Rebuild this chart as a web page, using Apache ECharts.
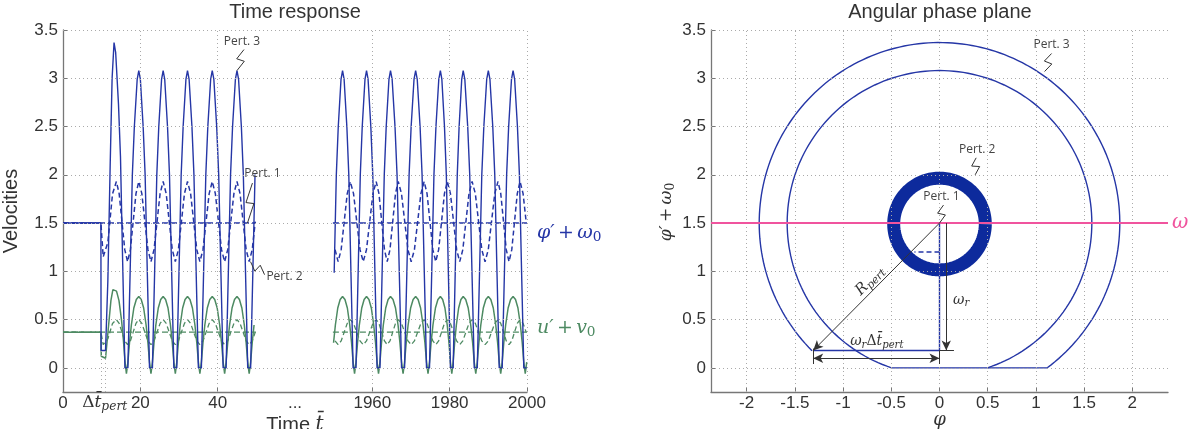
<!DOCTYPE html>
<html>
<head>
<meta charset="utf-8">
<title>Time response / Angular phase plane</title>
<script src="https://cdn.jsdelivr.net/npm/echarts@6.0.0/dist/echarts.min.js"></script>
<style>
  html, body { margin: 0; padding: 0; background: #fff; }
  #main { width: 1188px; height: 429px; }
</style>
</head>
<body>
<div id="main"></div>
<script>
// ---- values ----
// left panel: broken time axis, 0..60 on the left, 1940..2000 on the right
const timeTicks = [0, 20, 40, 60, 80, 100, 120];
const timeTickLabels = ['0', '20', '40', '...', '1960', '1980', '2000'];
const timeGridTicks = [20, 40, 80, 100, 120];
const timeBreak = 1880;
const velTicks = [0, 0.5, 1, 1.5, 2, 2.5, 3, 3.5];
const phiTicks = [-2, -1.5, -1, -0.5, 0, 0.5, 1, 1.5, 2];

const segLeft = [0, 49.9];
const segRight = [1949.8, 2000];
const dtPert = [9.8, 11.0];
const omega0 = 1.5;
const v0 = 0.37;

// Pert. 3 (solid lines)
const p3PhiLead = [[0, 1.5], [9.8, 1.5], [9.85, 0.18], [11.0, 0.18], [11.6, 0.9], [12.2, 2.1], [12.7, 3.0]];
const p3ULead = [[0, 0.37], [9.8, 0.37], [9.9, 0.12], [11.0, 0.1], [11.7, 0.4], [12.4, 0.7], [12.9, 0.81]];
const p3PeaksLeft = [13.2, 19.6, 25.9, 32.2, 38.6, 45.0, 51.3];
const p3PeaksRight = [1946.1, 1952.3, 1958.5, 1964.7, 1971.2, 1977.6, 1983.5, 1990.0, 1996.4, 2002.7];
const p3PhiPeaksLeftVal = [3.37, 3.08, 3.08, 3.08, 3.08, 3.08, 3.08];
const p3PhiPeak = 3.08, p3PhiTrough = 0;
const p3UPeaksLeftVal = [0.83, 0.74, 0.74, 0.74, 0.74, 0.74, 0.74];
const p3UPeak = 0.74, p3UTrough = -0.06;
// half cycle, peak -> trough: [fraction of half period, fraction of swing]
const p3PhiShape = [[0, 1], [0.13, 0.97], [0.36, 0.81], [0.52, 0.65], [0.7, 0.32], [0.88, 0], [1, 0]];
const p3UShape = [[0, 1], [0.2, 0.96], [0.4, 0.85], [0.6, 0.63], [0.75, 0.4], [0.88, 0.15], [1, 0]];

// Pert. 2 (dashed lines)
const p2PhiLead = [[0, 1.5], [9.8, 1.5], [10.4, 1.15], [11.6, 1.3], [12.8, 1.8]];
const p2ULead = [[0, 0.37], [9.8, 0.37], [10.4, 0.24], [11.6, 0.3], [12.8, 0.46]];
const p2PeaksLeft = [13.8, 19.6, 25.9, 32.2, 38.6, 45.0, 51.3];
const p2PeaksRight = [1948.0, 1954.3, 1961.0, 1966.7, 1973.4, 1979.4, 1985.8, 1992.5, 1998.2, 2004.5];
const p2PhiPeak = 1.93, p2PhiTrough = 1.1;
const p2UPeak = 0.5, p2UTrough = 0.24;
const p2Shape = [[0, 1], [0.25, 0.85], [0.5, 0.5], [0.75, 0.15], [1, 0]];

// right panel: phase plane, [centre phi, centre vel, radius, start angle, end angle]
const orbitArcs = [[0, 1.5, 1.87, 225, -53.3], [0, 1.5, 1.58, 251.6, -71.6]];
const ringArcs = [[0, 1.49, 0.475, 0, 360]];
const flatBottom = [[-0.5, 0], [1.12, 0]];
const pertPath = [[0, 1.5], [0, 0.18], [-1.31, 0.18]];
const pert2Path = [[0, 1.2], [-0.26, 1.2]];

const blue = '#2536a6', ringBlue = '#0d2a9c', green = '#4d8a62', pink = '#f0549e';
const gridColor = '#aaaaaa', axisColor = '#777777', textColor = '#333333';

const chart = echarts.init(document.getElementById('main'));
const toAxis = t => (t > 1000 ? t - timeBreak : t);

function wave(peaks, peakVals, trough, shape, from, to) {
    const vals = Array.isArray(peakVals) ? peakVals : peaks.map(() => peakVals);
    const pts = [];
    for (let i = 0; i < peaks.length - 1; i++) {
        const half = (peaks[i + 1] - peaks[i]) / 2;
        shape.forEach(([f, s], k) => {
            if (i > 0 && k === 0) return;
            pts.push([peaks[i] + f * half, trough + (vals[i] - trough) * s]);
        });
        for (let k = shape.length - 2; k >= 0; k--) {
            const [f, s] = shape[k];
            pts.push([peaks[i + 1] - f * half, trough + (vals[i + 1] - trough) * s]);
        }
    }
    return pts.filter(p => p[0] >= from && p[0] <= to);
}

function timeLine(points, color, dash, width) {
    return {
        type: 'line', xAxisIndex: 0, yAxisIndex: 0, symbol: 'none', silent: true, z: 3,
        data: points.map(p => [toAxis(p[0]), p[1]]),
        lineStyle: {color: color, width: width, type: dash || 'solid'}
    };
}

function phaseLine(points, color, dash, width) {
    return {
        type: 'line', xAxisIndex: 1, yAxisIndex: 1, symbol: 'none', silent: true, z: 3,
        data: points, lineStyle: {color: color, width: width, type: dash || 'solid'}
    };
}

function arcSeries(arcs, color, width) {
    return {
        type: 'custom', xAxisIndex: 1, yAxisIndex: 1, silent: true, z: 3, clip: true,
        data: arcs, encode: {x: 0, y: 1},
        renderItem: function (params, api) {
            const cx = api.value(0), cy = api.value(1), r = api.value(2);
            const a0 = api.value(3), a1 = api.value(4);
            const pts = [];
            for (let k = 0; k <= 180; k++) {
                const a = (a0 + (a1 - a0) * k / 180) * Math.PI / 180;
                pts.push(api.coord([cx + r * Math.cos(a), cy + r * Math.sin(a)]));
            }
            return {type: 'polyline', shape: {points: pts}, style: {fill: null, stroke: color, lineWidth: width}};
        }
    };
}

function gridSeries(gridIndex, xs, ys, extra) {
    return {
        type: 'line', xAxisIndex: gridIndex, yAxisIndex: gridIndex, data: [], silent: true, z: 1,
        markLine: {
            silent: true, symbol: ['none', 'none'], label: {show: false}, animation: false,
            lineStyle: {color: gridColor, type: [1, 3], width: 1},
            emphasis: {disabled: true},
            data: ys.map(v => ({yAxis: v})).concat(xs.map(v => ({xAxis: v}))).concat(extra || [])
        }
    };
}

const labelStyle = {color: textColor, fontSize: 17, fontFamily: 'Liberation Sans'};

const series = [
    gridSeries(0, timeGridTicks, velTicks, dtPert.map(t => [{coord: [t, -0.25]}, {coord: [t, 0.2]}])),
    // Pert. 1
    timeLine([[segLeft[0], omega0], [segLeft[1], omega0]], blue, [6, 3], 1.4),
    timeLine([[segRight[0], omega0], [segRight[1], omega0]], blue, [6, 3], 1.4),
    timeLine([[segLeft[0], v0], [segLeft[1], v0]], green, [6, 3], 1.4),
    timeLine([[segRight[0], v0], [segRight[1], v0]], green, [6, 3], 1.4),
    // Pert. 2
    timeLine(p2PhiLead.concat(wave(p2PeaksLeft, p2PhiPeak, p2PhiTrough, p2Shape, p2PeaksLeft[0], segLeft[1])), blue, [5, 3], 1.5),
    timeLine(wave(p2PeaksRight, p2PhiPeak, p2PhiTrough, p2Shape, segRight[0], segRight[1]), blue, [5, 3], 1.5),
    timeLine(p2ULead.concat(wave(p2PeaksLeft, p2UPeak, p2UTrough, p2Shape, p2PeaksLeft[0], segLeft[1])), green, [5, 3], 1.3),
    timeLine(wave(p2PeaksRight, p2UPeak, p2UTrough, p2Shape, segRight[0], segRight[1]), green, [5, 3], 1.3),
    // Pert. 3
    timeLine(p3ULead.concat(wave(p3PeaksLeft, p3UPeaksLeftVal, p3UTrough, p3UShape, p3PeaksLeft[0], segLeft[1])), green, null, 1.5),
    timeLine(wave(p3PeaksRight, p3UPeak, p3UTrough, p3UShape, segRight[0], segRight[1]), green, null, 1.5),
    timeLine(p3PhiLead.concat(wave(p3PeaksLeft, p3PhiPeaksLeftVal, p3PhiTrough, p3PhiShape, p3PeaksLeft[0], segLeft[1])), blue, null, 1.4),
    timeLine(wave(p3PeaksRight, p3PhiPeak, p3PhiTrough, p3PhiShape, segRight[0], segRight[1]), blue, null, 1.4),

    // phase plane
    gridSeries(1, phiTicks, velTicks),
    {
        type: 'line', xAxisIndex: 1, yAxisIndex: 1, data: [], silent: true, z: 2,
        markLine: {
            silent: true, symbol: ['none', 'none'], label: {show: false}, animation: false,
            lineStyle: {color: pink, type: 'solid', width: 2},
            data: [{yAxis: omega0}]
        }
    },
    arcSeries(ringArcs, ringBlue, 13),
    arcSeries(orbitArcs, blue, 1.4),
    phaseLine(flatBottom, blue, null, 1.4),
    phaseLine(pertPath, blue, null, 1.4),
    phaseLine(pert2Path, blue, [5, 3], 1.4),
    {
        type: 'line', xAxisIndex: 1, yAxisIndex: 1, data: [], silent: true, z: 4,
        markLine: {
            silent: true, symbol: ['none', 'arrow'], symbolSize: [7, 10], label: {show: false}, animation: false,
            lineStyle: {color: '#333', type: 'solid', width: 1},
            data: [
                [{coord: [0, 1.5]}, {coord: [-1.31, 0.18]}],
                [{coord: [0.07, 1.5]}, {coord: [0.07, 0.18]}],
                [{coord: [-1.31, 0.1], symbol: 'arrow'}, {coord: [0, 0.1]}],
                [{coord: [0, 0.18], symbol: 'none'}, {coord: [0.15, 0.18], symbol: 'none'}],
                [{coord: [-1.31, 0.2], symbol: 'none'}, {coord: [-1.31, 0.04], symbol: 'none'}],
                [{coord: [0, 0.18], symbol: 'none'}, {coord: [0, 0.04], symbol: 'none'}]
            ]
        }
    }
];

chart.setOption({
    animation: false,
    grid: [
        {left: 62, top: 30, width: 465, height: 362},
        {left: 711, top: 30, width: 457, height: 362}
    ],
    xAxis: [
        {
            type: 'value', gridIndex: 0, min: 0, max: 120,
            axisLine: {onZero: false, lineStyle: {color: axisColor, width: 1.3}},
            axisTick: {inside: true, length: 5, customValues: [0, 20, 40, 80, 100, 120], lineStyle: {color: axisColor}},
            axisLabel: Object.assign({customValues: timeTicks, margin: 3,
                formatter: v => timeTickLabels[timeTicks.indexOf(v)]}, labelStyle),
            splitLine: {show: false}
        },
        {
            type: 'value', gridIndex: 1, min: -2.37, max: 2.37,
            axisLine: {onZero: false, lineStyle: {color: axisColor, width: 1.3}},
            axisTick: {inside: true, length: 5, customValues: phiTicks, lineStyle: {color: axisColor}},
            axisLabel: Object.assign({customValues: phiTicks, margin: 3}, labelStyle),
            splitLine: {show: false}
        }
    ],
    yAxis: [
        {
            type: 'value', gridIndex: 0, min: -0.25, max: 3.5,
            axisLine: {show: true, onZero: false, lineStyle: {color: axisColor, width: 1.3}},
            axisTick: {show: true, inside: true, length: 5, customValues: velTicks, lineStyle: {color: axisColor}},
            axisLabel: Object.assign({customValues: velTicks, margin: 5}, labelStyle),
            splitLine: {show: false},
            name: 'Velocities', nameLocation: 'middle', nameGap: 42,
            nameTextStyle: {color: textColor, fontSize: 20, fontFamily: 'Liberation Sans'}
        },
        {
            type: 'value', gridIndex: 1, min: -0.25, max: 3.5,
            axisLine: {show: true, onZero: false, lineStyle: {color: axisColor, width: 1.3}},
            axisTick: {show: true, inside: true, length: 5, customValues: velTicks, lineStyle: {color: axisColor}},
            axisLabel: Object.assign({customValues: velTicks, margin: 5}, labelStyle),
            splitLine: {show: false}
        }
    ],
    series: series
});

// ---- annotations ----
const px = (g, p) => chart.convertToPixel({gridIndex: g}, p);
const serif = 'DejaVu Serif';
const richMath = (size, color) => ({
    i: {fontFamily: serif, fontStyle: 'italic', fontSize: size, color: color},
    r: {fontFamily: serif, fontSize: size, color: color},
    s: {fontFamily: serif, fontStyle: 'italic', fontSize: size * 0.72, color: color, padding: [size * 0.45, 0, 0, 0]},
    n: {fontFamily: serif, fontSize: size * 0.72, color: color, padding: [size * 0.45, 0, 0, 0]}
});

function mathText(text, x, y, size, color, opts) {
    return Object.assign({
        type: 'text', x: x, y: y, silent: true, z: 20,
        style: Object.assign({text: text, rich: richMath(size, color), fill: color,
            align: 'left', verticalAlign: 'middle'}, (opts && opts.style) || {})
    }, (opts && opts.el) || {});
}

function plainText(text, x, y, size, align) {
    return {type: 'text', x: x, y: y, silent: true, z: 20,
        style: {text: text, fill: textColor, fontSize: size, fontFamily: 'Liberation Sans',
            align: align || 'center', verticalAlign: 'middle'}};
}

// "Pert." call-outs: [grid, tip in data units, text offset from tip (px), bolt start offset from tip (px)]
const callouts = [
    [0, [45.0, 3.08], 'Pert. 3', [5, -29], [7, -21]],
    [0, [47.7, 1.5], 'Pert. 1', [15, -49], [5, -40]],
    [0, [48.5, 1.1], 'Pert. 2', [34, 15], [14, 13]],
    [1, [1.09, 3.07], 'Pert. 3', [7, -27], [7, -18]],
    [1, [0.37, 2.0], 'Pert. 2', [2, -25], [1, -17]],
    [1, [0, 1.5], 'Pert. 1', [2, -26], [4, -18]]
];
const graphics = [];
callouts.forEach(([g, tip, label, toff, boff]) => {
    const p = px(g, tip);
    const s = [p[0] + boff[0], p[1] + boff[1]];
    const dx = p[0] - s[0], dy = p[1] - s[1];
    const len = Math.hypot(dx, dy);
    const nx = -dy / len * 4, ny = dx / len * 4;
    const mx = s[0] + dx / 2, my = s[1] + dy / 2;
    graphics.push({
        type: 'polyline', silent: true, z: 20,
        shape: {points: [s, [mx + nx, my + ny], [mx - nx, my - ny], p]},
        style: {stroke: '#333', lineWidth: 1, fill: null}
    });
    graphics.push({type: 'text', x: p[0] + toff[0], y: p[1] + toff[1], silent: true, z: 20,
        style: {text: label, fill: '#444', fontSize: 12, fontFamily: 'Open Sans', align: 'center', verticalAlign: 'middle'}});
});

graphics.push(plainText('Time response', 295, 12, 20));
graphics.push(plainText('Angular phase plane', 940, 12, 20));
graphics.push({type: 'text', x: 295, y: 415, silent: true, z: 20,
    style: {text: 'Time {i|t\u0304}', fill: textColor, fontSize: 20, fontFamily: 'Liberation Sans', align: 'center', verticalAlign: 'top',
        rich: {i: {fontFamily: serif, fontStyle: 'italic', fontSize: 20, color: textColor}}}});

const dtPx = px(0, [(dtPert[0] + dtPert[1]) / 2, -0.25]);
graphics.push(mathText('{r|\u0394}{i|t\u0304}{s|pert}', dtPx[0] - 21, dtPx[1] + 11, 17, textColor));

const phiLblPx = px(0, [120, omega0]);
graphics.push(mathText('{i|\u03c6\u2032} {r|+} {i|\u03c9}{n|0}', phiLblPx[0] + 10, phiLblPx[1] + 10, 19, blue));
const uLblPx = px(0, [120, v0]);
graphics.push(mathText('{i|u\u2032} {r|+} {i|v}{n|0}', uLblPx[0] + 10, uLblPx[1] - 4, 19, green));

const omPx = px(1, [2.37, omega0]);
graphics.push(mathText('{i|\u03c9}', omPx[0] + 4, omPx[1], 20, pink));

graphics.push(mathText('{i|\u03c6\u2032} {r|+} {i|\u03c9}{n|0}', 667, 212, 17, textColor,
    {style: {align: 'center'}, el: {rotation: Math.PI / 2}}));
const phiAxPx = px(1, [0, -0.25]);
graphics.push(mathText('{i|\u03c6}', phiAxPx[0], 420, 18, textColor, {style: {align: 'center'}}));

const rPx = px(1, [-0.72, 0.9]);
graphics.push(mathText('{i|R}{s|pert}', rPx[0], rPx[1], 15, '#333', {style: {align: 'center'}, el: {rotation: Math.PI / 4}}));
const wrPx = px(1, [0.14, 0.7]);
graphics.push(mathText('{i|\u03c9}{s|r}', wrPx[0], wrPx[1], 14, '#333'));
const wdPx = px(1, [-0.65, 0.27]);
graphics.push(mathText('{i|\u03c9}{s|r}{r|\u0394}{i|t\u0304}{s|pert}', wdPx[0], wdPx[1], 14, '#333', {style: {align: 'center'}}));

chart.setOption({graphic: graphics});
</script>
</body>
</html>
